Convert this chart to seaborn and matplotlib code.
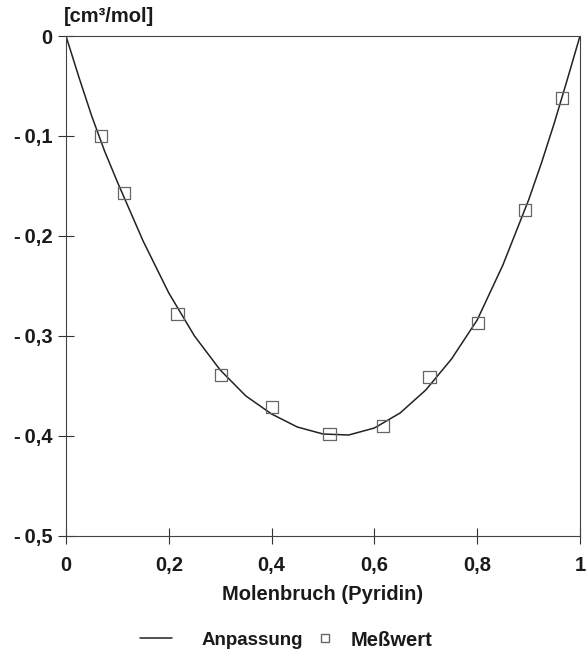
import matplotlib
matplotlib.use("Agg")
import matplotlib.pyplot as plt
import seaborn as sns
import pandas as pd
from matplotlib.lines import Line2D

# measured values (Meßwert)
x_meas = [0.068, 0.113, 0.217, 0.302, 0.401, 0.513, 0.617, 0.707, 0.802, 0.893, 0.965]
y_meas = [-0.100, -0.157, -0.278, -0.339, -0.371, -0.398, -0.390, -0.341, -0.287, -0.174, -0.062]

# fitted curve (Anpassung)
x_fit = [0.0, 0.025, 0.05, 0.075, 0.10, 0.15, 0.20, 0.25, 0.30, 0.35, 0.40, 0.45, 0.50,
         0.55, 0.60, 0.65, 0.70, 0.75, 0.80, 0.85, 0.90, 0.925, 0.95, 0.975, 1.0]
y_fit = [0.0, -0.041, -0.080, -0.115, -0.146, -0.205, -0.257, -0.300, -0.334, -0.360,
         -0.378, -0.391, -0.398, -0.399, -0.392, -0.377, -0.354, -0.323, -0.284, -0.229,
         -0.164, -0.127, -0.087, -0.044, 0.0]

x_ticks = [0, 0.2, 0.4, 0.6, 0.8, 1.0]
x_ticklabels = ["0", "0,2", "0,4", "0,6", "0,8", "1"]
y_ticks = [0, -0.1, -0.2, -0.3, -0.4, -0.5]
y_ticklabels = ["0", "-\u20090,1", "-\u20090,2", "-\u20090,3", "-\u20090,4", "-\u20090,5"]

sns.set_theme(style="white")
plt.rcParams['font.family'] = ['Liberation Sans', 'DejaVu Sans']
plt.rcParams['font.weight'] = 'bold'

FS = 14.5
TXT = "#1a1a1a"

df_fit = pd.DataFrame({"x": x_fit, "y": y_fit})
df_meas = pd.DataFrame({"x": x_meas, "y": y_meas})

fig = plt.figure(figsize=(5.86, 6.64), dpi=100)
ax = fig.add_axes([66 / 586, 1 - 536 / 664, 514 / 586, 500 / 664])

sns.lineplot(data=df_fit, x="x", y="y", ax=ax, color="#222222", linewidth=1.1)
sns.scatterplot(data=df_meas, x="x", y="y", ax=ax, marker="s", s=80,
                facecolor="none", edgecolor="#666666", linewidth=0.9, zorder=3)

ax.set_xlim(0, 1)
ax.set_ylim(-0.5, 0)
ax.set_xticks(x_ticks)
ax.set_xticklabels(x_ticklabels)
ax.set_yticks(y_ticks)
ax.set_yticklabels(y_ticklabels)
ax.tick_params(axis="both", bottom=True, left=True, direction="inout", length=11,
               width=0.8, color="#333333", labelsize=FS, labelcolor=TXT)
ax.tick_params(axis="y", pad=4)
ax.tick_params(axis="x", pad=9)
for spine in ax.spines.values():
    spine.set_linewidth(0.8)
    spine.set_color("#444444")

ax.set_xlabel("Molenbruch (Pyridin)", fontsize=FS, fontweight="bold",
              color=TXT, labelpad=7)
ax.set_ylabel("")
fig.text(64 / 586, 1 - 16 / 664, "[cm³/mol]", fontsize=FS, fontweight="bold",
         color=TXT, ha="left", va="center")

# two separate legend entries, placed like the original
line_handle = Line2D([0], [0], color="#222222", linewidth=1.1)
mark_handle = Line2D([0], [0], marker="s", linestyle="none", markerfacecolor="none",
                     markeredgecolor="#666666", markersize=6)
leg1 = fig.legend([line_handle], ["Anpassung"], loc="center left",
                  bbox_to_anchor=(140 / 586, 1 - 640 / 664), frameon=False,
                  prop={"size": 13.5, "weight": "bold"}, labelcolor=TXT,
                  borderpad=0, borderaxespad=0, handlelength=1.7, handletextpad=1.6)
leg2 = fig.legend([mark_handle], ["Meßwert"], loc="center left",
                  bbox_to_anchor=(317 / 586, 1 - 640 / 664), frameon=False,
                  prop={"size": 14.5, "weight": "bold"}, labelcolor=TXT,
                  borderpad=0, borderaxespad=0, handlelength=0.8, handletextpad=0.85)

fig.savefig("out.png", dpi=100)
